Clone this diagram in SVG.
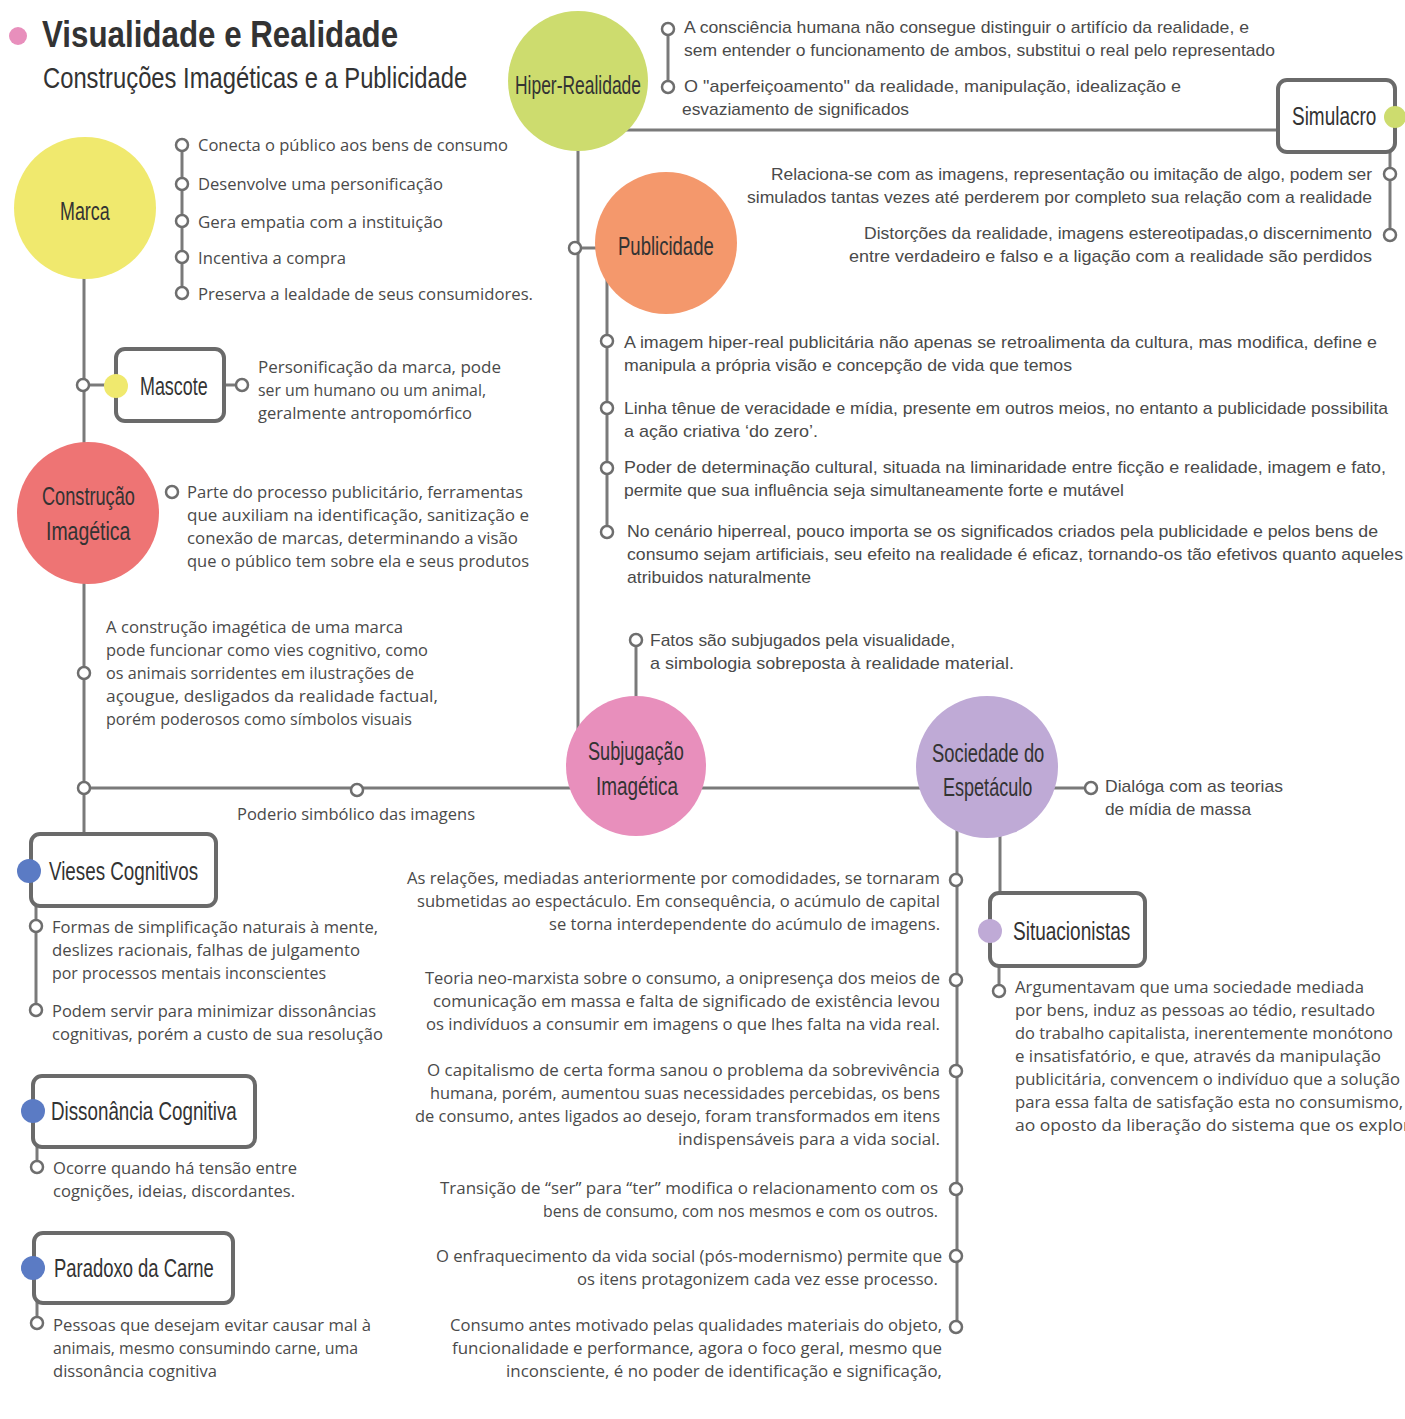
<svg xmlns="http://www.w3.org/2000/svg" width="1405" height="1419" viewBox="0 0 1405 1419">
  <style>
    .ln { stroke: #7a7a7a; stroke-width: 3; fill: none; }
    .dot { fill: #ffffff; stroke: #6e6e6e; stroke-width: 2.5; }
    .box { fill: #ffffff; stroke: #6a6a6a; stroke-width: 4; }
    .hd { font-family: "Liberation Sans", Roboto, sans-serif; font-size: 26px; fill: #333333; }
    .tx { font-family: "Open Sans", "DejaVu Sans", sans-serif; font-size: 15.5px; fill: #4a4a4a; }
    .cn { font-family: "Liberation Sans", Arial, sans-serif; font-size: 17px; fill: #4a4a4a; }
    .r { text-anchor: end; }
  </style>

  <!-- title -->
  <g id="title">
    <circle cx="18" cy="36" r="9" fill="#e88fbc"/>
    <text transform="translate(42 47) scale(0.85 1)" font-family="Liberation Sans, Roboto, sans-serif" font-size="37" font-weight="bold" fill="#333" textLength="419" lengthAdjust="spacingAndGlyphs">Visualidade e Realidade</text>
    <text transform="translate(43 88) scale(0.79 1)" font-family="Liberation Sans, Roboto, sans-serif" font-size="30" fill="#333" textLength="537" lengthAdjust="spacingAndGlyphs">Construções Imagéticas e a Publicidade</text>
  </g>

  <!-- connectors -->
  <g id="connectors">
    <line class="ln" x1="668" y1="29" x2="668" y2="87"/>
    <line class="ln" x1="600" y1="130" x2="1280" y2="130"/>
    <line class="ln" x1="1390" y1="150" x2="1390" y2="235"/>
    <line class="ln" x1="578" y1="120" x2="578" y2="766"/>
    <line class="ln" x1="576" y1="248" x2="640" y2="248"/>
    <line class="ln" x1="607" y1="260" x2="607" y2="532"/>
    <line class="ln" x1="182" y1="145" x2="182" y2="293"/>
    <line class="ln" x1="84" y1="208" x2="84" y2="836"/>
    <line class="ln" x1="84" y1="385" x2="116" y2="385"/>
    <line class="ln" x1="222" y1="385" x2="242" y2="385"/>
    <line class="ln" x1="84" y1="788" x2="987" y2="788"/>
    <line class="ln" x1="636" y1="640" x2="636" y2="766"/>
    <line class="ln" x1="1040" y1="788" x2="1091" y2="788"/>
    <line class="ln" x1="957" y1="767" x2="957" y2="1327"/>
    <line class="ln" x1="1000" y1="767" x2="1000" y2="895"/>
    <line class="ln" x1="999" y1="964" x2="999" y2="991"/>
    <line class="ln" x1="36" y1="904" x2="36" y2="1010"/>
    <line class="ln" x1="37" y1="1145" x2="37" y2="1167"/>
    <line class="ln" x1="37" y1="1301" x2="37" y2="1323"/>
  </g>

  <!-- Hiper-Realidade -->
  <g id="hiper-realidade">
    <circle cx="578" cy="81" r="70" fill="#cddc6e"/>
    <text class="hd" transform="translate(515 94) scale(0.72 1)" textLength="175" lengthAdjust="spacingAndGlyphs">Hiper-Realidade</text>
  </g>
  <g id="hiper-notes">
    <text class="cn" x="684" y="33" textLength="565" lengthAdjust="spacingAndGlyphs">A consciência humana não consegue distinguir o artifício da realidade, e</text>
    <text class="cn" x="684" y="56" textLength="591" lengthAdjust="spacingAndGlyphs">sem entender o funcionamento de ambos, substitui o real pelo representado</text>
    <text class="cn" x="684" y="92" textLength="497" lengthAdjust="spacingAndGlyphs">O "aperfeiçoamento" da realidade, manipulação, idealização e</text>
    <text class="cn" x="682" y="115" textLength="227" lengthAdjust="spacingAndGlyphs">esvaziamento de significados</text>
  </g>

  <!-- Simulacro -->
  <g id="simulacro">
    <rect class="box" x="1278" y="80" width="117" height="72" rx="9"/>
    <circle cx="1395" cy="117" r="11" fill="#cddc6e"/>
    <text class="hd" transform="translate(1292 125) scale(0.72 1)" textLength="117" lengthAdjust="spacingAndGlyphs">Simulacro</text>
  </g>
  <g id="simulacro-notes">
    <text class="cn r" x="1372" y="180" textLength="601" lengthAdjust="spacingAndGlyphs">Relaciona-se com as imagens, representação ou imitação de algo, podem ser</text>
    <text class="cn r" x="1372" y="203" textLength="625" lengthAdjust="spacingAndGlyphs">simulados tantas vezes até perderem por completo sua relação com a realidade</text>
    <text class="cn r" x="1372" y="239" textLength="508" lengthAdjust="spacingAndGlyphs">Distorções da realidade, imagens estereotipadas,o discernimento</text>
    <text class="cn r" x="1372" y="262" textLength="523" lengthAdjust="spacingAndGlyphs">entre verdadeiro e falso e a ligação com a realidade são perdidos</text>
  </g>

  <!-- Publicidade -->
  <g id="publicidade">
    <circle cx="666" cy="243" r="71" fill="#f4986c"/>
    <text class="hd" transform="translate(618 255) scale(0.72 1)" textLength="133" lengthAdjust="spacingAndGlyphs">Publicidade</text>
  </g>
  <g id="publicidade-notes">
    <text class="cn" x="624" y="348" textLength="753" lengthAdjust="spacingAndGlyphs">A imagem hiper-real publicitária não apenas se retroalimenta da cultura, mas modifica, define e</text>
    <text class="cn" x="624" y="371" textLength="448" lengthAdjust="spacingAndGlyphs">manipula a própria visão e concepção de vida que temos</text>
    <text class="cn" x="624" y="414" textLength="764" lengthAdjust="spacingAndGlyphs">Linha tênue de veracidade e mídia, presente em outros meios, no entanto a publicidade possibilita</text>
    <text class="cn" x="624" y="437" textLength="194" lengthAdjust="spacingAndGlyphs">a ação criativa ‘do zero’.</text>
    <text class="cn" x="624" y="473" textLength="762" lengthAdjust="spacingAndGlyphs">Poder de determinação cultural, situada na liminaridade entre ficção e realidade, imagem e fato,</text>
    <text class="cn" x="624" y="496" textLength="500" lengthAdjust="spacingAndGlyphs">permite que sua influência seja simultaneamente forte e mutável</text>
    <text class="cn" x="627" y="537" textLength="751" lengthAdjust="spacingAndGlyphs">No cenário hiperreal, pouco importa se os significados criados pela publicidade e pelos bens de</text>
    <text class="cn" x="627" y="560" textLength="776" lengthAdjust="spacingAndGlyphs">consumo sejam artificiais, seu efeito na realidade é eficaz, tornando-os tão efetivos quanto aqueles</text>
    <text class="cn" x="627" y="583" textLength="184" lengthAdjust="spacingAndGlyphs">atribuidos naturalmente</text>
  </g>

  <!-- Marca -->
  <g id="marca">
    <circle cx="85" cy="208" r="71" fill="#f0e96e"/>
    <text class="hd" transform="translate(60 220) scale(0.72 1)" textLength="69" lengthAdjust="spacingAndGlyphs">Marca</text>
  </g>
  <g id="marca-notes">
    <text class="tx" x="198" y="151" textLength="310" lengthAdjust="spacingAndGlyphs">Conecta o público aos bens de consumo</text>
    <text class="tx" x="198" y="190" textLength="245" lengthAdjust="spacingAndGlyphs">Desenvolve uma personificação</text>
    <text class="tx" x="198" y="228" textLength="245" lengthAdjust="spacingAndGlyphs">Gera empatia com a instituição</text>
    <text class="tx" x="198" y="264" textLength="148" lengthAdjust="spacingAndGlyphs">Incentiva a compra</text>
    <text class="tx" x="198" y="300" textLength="335" lengthAdjust="spacingAndGlyphs">Preserva a lealdade de seus consumidores.</text>
  </g>

  <!-- Mascote -->
  <g id="mascote">
    <rect class="box" x="116" y="349" width="108" height="72" rx="9"/>
    <circle cx="116" cy="386" r="12" fill="#f0e96e"/>
    <text class="hd" transform="translate(140 395) scale(0.72 1)" textLength="94" lengthAdjust="spacingAndGlyphs">Mascote</text>
  </g>
  <g id="mascote-notes">
    <text class="tx" x="258" y="373" textLength="243" lengthAdjust="spacingAndGlyphs">Personificação da marca, pode</text>
    <text class="tx" x="258" y="396" textLength="228" lengthAdjust="spacingAndGlyphs">ser um humano ou um animal,</text>
    <text class="tx" x="258" y="419" textLength="214" lengthAdjust="spacingAndGlyphs">geralmente antropomórfico</text>
  </g>

  <!-- Construção Imagética -->
  <g id="construcao-imagetica">
    <circle cx="88" cy="513" r="71" fill="#ee7474"/>
    <text class="hd" transform="translate(42 505) scale(0.72 1)" textLength="129" lengthAdjust="spacingAndGlyphs">Construção</text>
    <text class="hd" transform="translate(46 540) scale(0.72 1)" textLength="117" lengthAdjust="spacingAndGlyphs">Imagética</text>
  </g>
  <g id="construcao-notes">
    <text class="tx" x="187" y="498" textLength="336" lengthAdjust="spacingAndGlyphs">Parte do processo publicitário, ferramentas</text>
    <text class="tx" x="187" y="521" textLength="342" lengthAdjust="spacingAndGlyphs">que auxiliam na identificação, sanitização e</text>
    <text class="tx" x="187" y="544" textLength="331" lengthAdjust="spacingAndGlyphs">conexão de marcas, determinando a visão</text>
    <text class="tx" x="187" y="567" textLength="342" lengthAdjust="spacingAndGlyphs">que o público tem sobre ela e seus produtos</text>
    <text class="tx" x="106" y="633" textLength="297" lengthAdjust="spacingAndGlyphs">A construção imagética de uma marca</text>
    <text class="tx" x="106" y="656" textLength="322" lengthAdjust="spacingAndGlyphs">pode funcionar como vies cognitivo, como</text>
    <text class="tx" x="106" y="679" textLength="308" lengthAdjust="spacingAndGlyphs">os animais sorridentes em ilustrações de</text>
    <text class="tx" x="106" y="702" textLength="332" lengthAdjust="spacingAndGlyphs">açougue, desligados da realidade factual,</text>
    <text class="tx" x="106" y="725" textLength="306" lengthAdjust="spacingAndGlyphs">porém poderosos como símbolos visuais</text>
    <text class="tx" x="237" y="820" textLength="238" lengthAdjust="spacingAndGlyphs">Poderio simbólico das imagens</text>
  </g>

  <!-- Subjugação Imagética -->
  <g id="subjugacao-imagetica">
    <circle cx="636" cy="766" r="70" fill="#e88fbc"/>
    <text class="hd" transform="translate(588 760) scale(0.72 1)" textLength="133" lengthAdjust="spacingAndGlyphs">Subjugação</text>
    <text class="hd" transform="translate(596 795) scale(0.72 1)" textLength="114" lengthAdjust="spacingAndGlyphs">Imagética</text>
  </g>
  <g id="subjugacao-notes">
    <text class="cn" x="650" y="646" textLength="305" lengthAdjust="spacingAndGlyphs">Fatos são subjugados pela visualidade,</text>
    <text class="cn" x="650" y="669" textLength="364" lengthAdjust="spacingAndGlyphs">a simbologia sobreposta à realidade material.</text>
  </g>

  <!-- Sociedade do Espetáculo -->
  <g id="sociedade-do-espetaculo">
    <circle cx="987" cy="767" r="71" fill="#bfaad6"/>
    <text class="hd" transform="translate(932 762) scale(0.72 1)" textLength="156" lengthAdjust="spacingAndGlyphs">Sociedade do</text>
    <text class="hd" transform="translate(943 796) scale(0.72 1)" textLength="124" lengthAdjust="spacingAndGlyphs">Espetáculo</text>
  </g>
  <g id="sociedade-notes">
    <text class="cn" x="1105" y="792" textLength="178" lengthAdjust="spacingAndGlyphs">Dialóga com as teorias</text>
    <text class="cn" x="1105" y="815" textLength="146" lengthAdjust="spacingAndGlyphs">de mídia de massa</text>
    <text class="tx r" x="940" y="884" textLength="533" lengthAdjust="spacingAndGlyphs">As relações, mediadas anteriormente por comodidades, se tornaram</text>
    <text class="tx r" x="940" y="907" textLength="523" lengthAdjust="spacingAndGlyphs">submetidas ao espectáculo. Em consequência, o acúmulo de capital</text>
    <text class="tx r" x="940" y="930" textLength="391" lengthAdjust="spacingAndGlyphs">se torna interdependente do acúmulo de imagens.</text>
    <text class="tx r" x="940" y="984" textLength="515" lengthAdjust="spacingAndGlyphs">Teoria neo-marxista sobre o consumo, a onipresença dos meios de</text>
    <text class="tx r" x="940" y="1007" textLength="507" lengthAdjust="spacingAndGlyphs">comunicação em massa e falta de significado de existência levou</text>
    <text class="tx r" x="940" y="1030" textLength="514" lengthAdjust="spacingAndGlyphs">os indivíduos a consumir em imagens o que lhes falta na vida real.</text>
    <text class="tx r" x="940" y="1076" textLength="513" lengthAdjust="spacingAndGlyphs">O capitalismo de certa forma sanou o problema da sobrevivência</text>
    <text class="tx r" x="940" y="1099" textLength="510" lengthAdjust="spacingAndGlyphs">humana, porém, aumentou suas necessidades percebidas, os bens</text>
    <text class="tx r" x="940" y="1122" textLength="525" lengthAdjust="spacingAndGlyphs">de consumo, antes ligados ao desejo, foram transformados em itens</text>
    <text class="tx r" x="940" y="1145" textLength="262" lengthAdjust="spacingAndGlyphs">indispensáveis para a vida social.</text>
    <text class="tx r" x="938" y="1194" textLength="498" lengthAdjust="spacingAndGlyphs">Transição de “ser” para “ter” modifica o relacionamento com os</text>
    <text class="tx r" x="938" y="1217" textLength="395" lengthAdjust="spacingAndGlyphs">bens de consumo, com nos mesmos e com os outros.</text>
    <text class="tx r" x="942" y="1262" textLength="506" lengthAdjust="spacingAndGlyphs">O enfraquecimento da vida social (pós-modernismo) permite que</text>
    <text class="tx r" x="938" y="1285" textLength="361" lengthAdjust="spacingAndGlyphs">os itens protagonizem cada vez esse processo.</text>
    <text class="tx r" x="942" y="1331" textLength="492" lengthAdjust="spacingAndGlyphs">Consumo antes motivado pelas qualidades materiais do objeto,</text>
    <text class="tx r" x="942" y="1354" textLength="490" lengthAdjust="spacingAndGlyphs">funcionalidade e performance, agora o foco geral, mesmo que</text>
    <text class="tx r" x="942" y="1377" textLength="436" lengthAdjust="spacingAndGlyphs">inconsciente, é no poder de identificação e significação,</text>
  </g>

  <!-- Situacionistas -->
  <g id="situacionistas">
    <rect class="box" x="990" y="893" width="155" height="73" rx="9"/>
    <circle cx="990" cy="931" r="12" fill="#bfaad6"/>
    <text class="hd" transform="translate(1013 940) scale(0.72 1)" textLength="163" lengthAdjust="spacingAndGlyphs">Situacionistas</text>
  </g>
  <g id="situacionistas-notes">
    <text class="tx" x="1015" y="993" textLength="349" lengthAdjust="spacingAndGlyphs">Argumentavam que uma sociedade mediada</text>
    <text class="tx" x="1015" y="1016" textLength="360" lengthAdjust="spacingAndGlyphs">por bens, induz as pessoas ao tédio, resultado</text>
    <text class="tx" x="1015" y="1039" textLength="378" lengthAdjust="spacingAndGlyphs">do trabalho capitalista, inerentemente monótono</text>
    <text class="tx" x="1015" y="1062" textLength="366" lengthAdjust="spacingAndGlyphs">e insatisfatório, e que, através da manipulação</text>
    <text class="tx" x="1015" y="1085" textLength="385" lengthAdjust="spacingAndGlyphs">publicitária, convencem o indivíduo que a solução</text>
    <text class="tx" x="1015" y="1108" textLength="388" lengthAdjust="spacingAndGlyphs">para essa falta de satisfação esta no consumismo,</text>
    <text class="tx" x="1015" y="1131" textLength="405" lengthAdjust="spacingAndGlyphs">ao oposto da liberação do sistema que os explora</text>
  </g>

  <!-- Vieses Cognitivos -->
  <g id="vieses-cognitivos">
    <rect class="box" x="31" y="834" width="185" height="72" rx="9"/>
    <circle cx="29" cy="871" r="12" fill="#5b7bc4"/>
    <text class="hd" transform="translate(49 880) scale(0.72 1)" textLength="207" lengthAdjust="spacingAndGlyphs">Vieses Cognitivos</text>
  </g>
  <g id="vieses-notes">
    <text class="tx" x="52" y="933" textLength="326" lengthAdjust="spacingAndGlyphs">Formas de simplificação naturais à mente,</text>
    <text class="tx" x="52" y="956" textLength="308" lengthAdjust="spacingAndGlyphs">deslizes racionais, falhas de julgamento</text>
    <text class="tx" x="52" y="979" textLength="274" lengthAdjust="spacingAndGlyphs">por processos mentais inconscientes</text>
    <text class="tx" x="52" y="1017" textLength="324" lengthAdjust="spacingAndGlyphs">Podem servir para minimizar dissonâncias</text>
    <text class="tx" x="52" y="1040" textLength="331" lengthAdjust="spacingAndGlyphs">cognitivas, porém a custo de sua resolução</text>
  </g>

  <!-- Dissonância Cognitiva -->
  <g id="dissonancia-cognitiva">
    <rect class="box" x="33" y="1076" width="222" height="71" rx="9"/>
    <circle cx="33" cy="1111" r="12" fill="#5b7bc4"/>
    <text class="hd" transform="translate(51 1120) scale(0.72 1)" textLength="258" lengthAdjust="spacingAndGlyphs">Dissonância Cognitiva</text>
  </g>
  <g id="dissonancia-notes">
    <text class="tx" x="53" y="1174" textLength="244" lengthAdjust="spacingAndGlyphs">Ocorre quando há tensão entre</text>
    <text class="tx" x="53" y="1197" textLength="242" lengthAdjust="spacingAndGlyphs">cognições, ideias, discordantes.</text>
  </g>

  <!-- Paradoxo da Carne -->
  <g id="paradoxo-da-carne">
    <rect class="box" x="34" y="1233" width="199" height="70" rx="9"/>
    <circle cx="33" cy="1268" r="12" fill="#5b7bc4"/>
    <text class="hd" transform="translate(54 1277) scale(0.72 1)" textLength="222" lengthAdjust="spacingAndGlyphs">Paradoxo da Carne</text>
  </g>
  <g id="paradoxo-notes">
    <text class="tx" x="53" y="1331" textLength="318" lengthAdjust="spacingAndGlyphs">Pessoas que desejam evitar causar mal à</text>
    <text class="tx" x="53" y="1354" textLength="305" lengthAdjust="spacingAndGlyphs">animais, mesmo consumindo carne, uma</text>
    <text class="tx" x="53" y="1377" textLength="164" lengthAdjust="spacingAndGlyphs">dissonância cognitiva</text>
  </g>

  <!-- bullet markers on the connector lines -->
  <g id="bullets">
    <circle class="dot" cx="668" cy="29" r="6"/>
    <circle class="dot" cx="668" cy="87" r="6"/>
    <circle class="dot" cx="1390" cy="174" r="6"/>
    <circle class="dot" cx="1390" cy="235" r="6"/>
    <circle class="dot" cx="575" cy="248" r="6"/>
    <circle class="dot" cx="607" cy="341" r="6"/>
    <circle class="dot" cx="607" cy="408" r="6"/>
    <circle class="dot" cx="607" cy="468" r="6"/>
    <circle class="dot" cx="607" cy="532" r="6"/>
    <circle class="dot" cx="182" cy="145" r="6"/>
    <circle class="dot" cx="182" cy="184" r="6"/>
    <circle class="dot" cx="182" cy="221" r="6"/>
    <circle class="dot" cx="182" cy="257" r="6"/>
    <circle class="dot" cx="182" cy="293" r="6"/>
    <circle class="dot" cx="83" cy="385" r="6"/>
    <circle class="dot" cx="242" cy="385" r="6"/>
    <circle class="dot" cx="172" cy="492" r="6"/>
    <circle class="dot" cx="84" cy="673" r="6"/>
    <circle class="dot" cx="84" cy="788" r="6"/>
    <circle class="dot" cx="357" cy="790" r="6"/>
    <circle class="dot" cx="636" cy="640" r="6"/>
    <circle class="dot" cx="1091" cy="788" r="6"/>
    <circle class="dot" cx="956" cy="880" r="6"/>
    <circle class="dot" cx="956" cy="980" r="6"/>
    <circle class="dot" cx="956" cy="1071" r="6"/>
    <circle class="dot" cx="956" cy="1189" r="6"/>
    <circle class="dot" cx="956" cy="1256" r="6"/>
    <circle class="dot" cx="956" cy="1327" r="6"/>
    <circle class="dot" cx="999" cy="991" r="6"/>
    <circle class="dot" cx="36" cy="926" r="6"/>
    <circle class="dot" cx="36" cy="1010" r="6"/>
    <circle class="dot" cx="37" cy="1167" r="6"/>
    <circle class="dot" cx="37" cy="1323" r="6"/>
  </g>
</svg>
